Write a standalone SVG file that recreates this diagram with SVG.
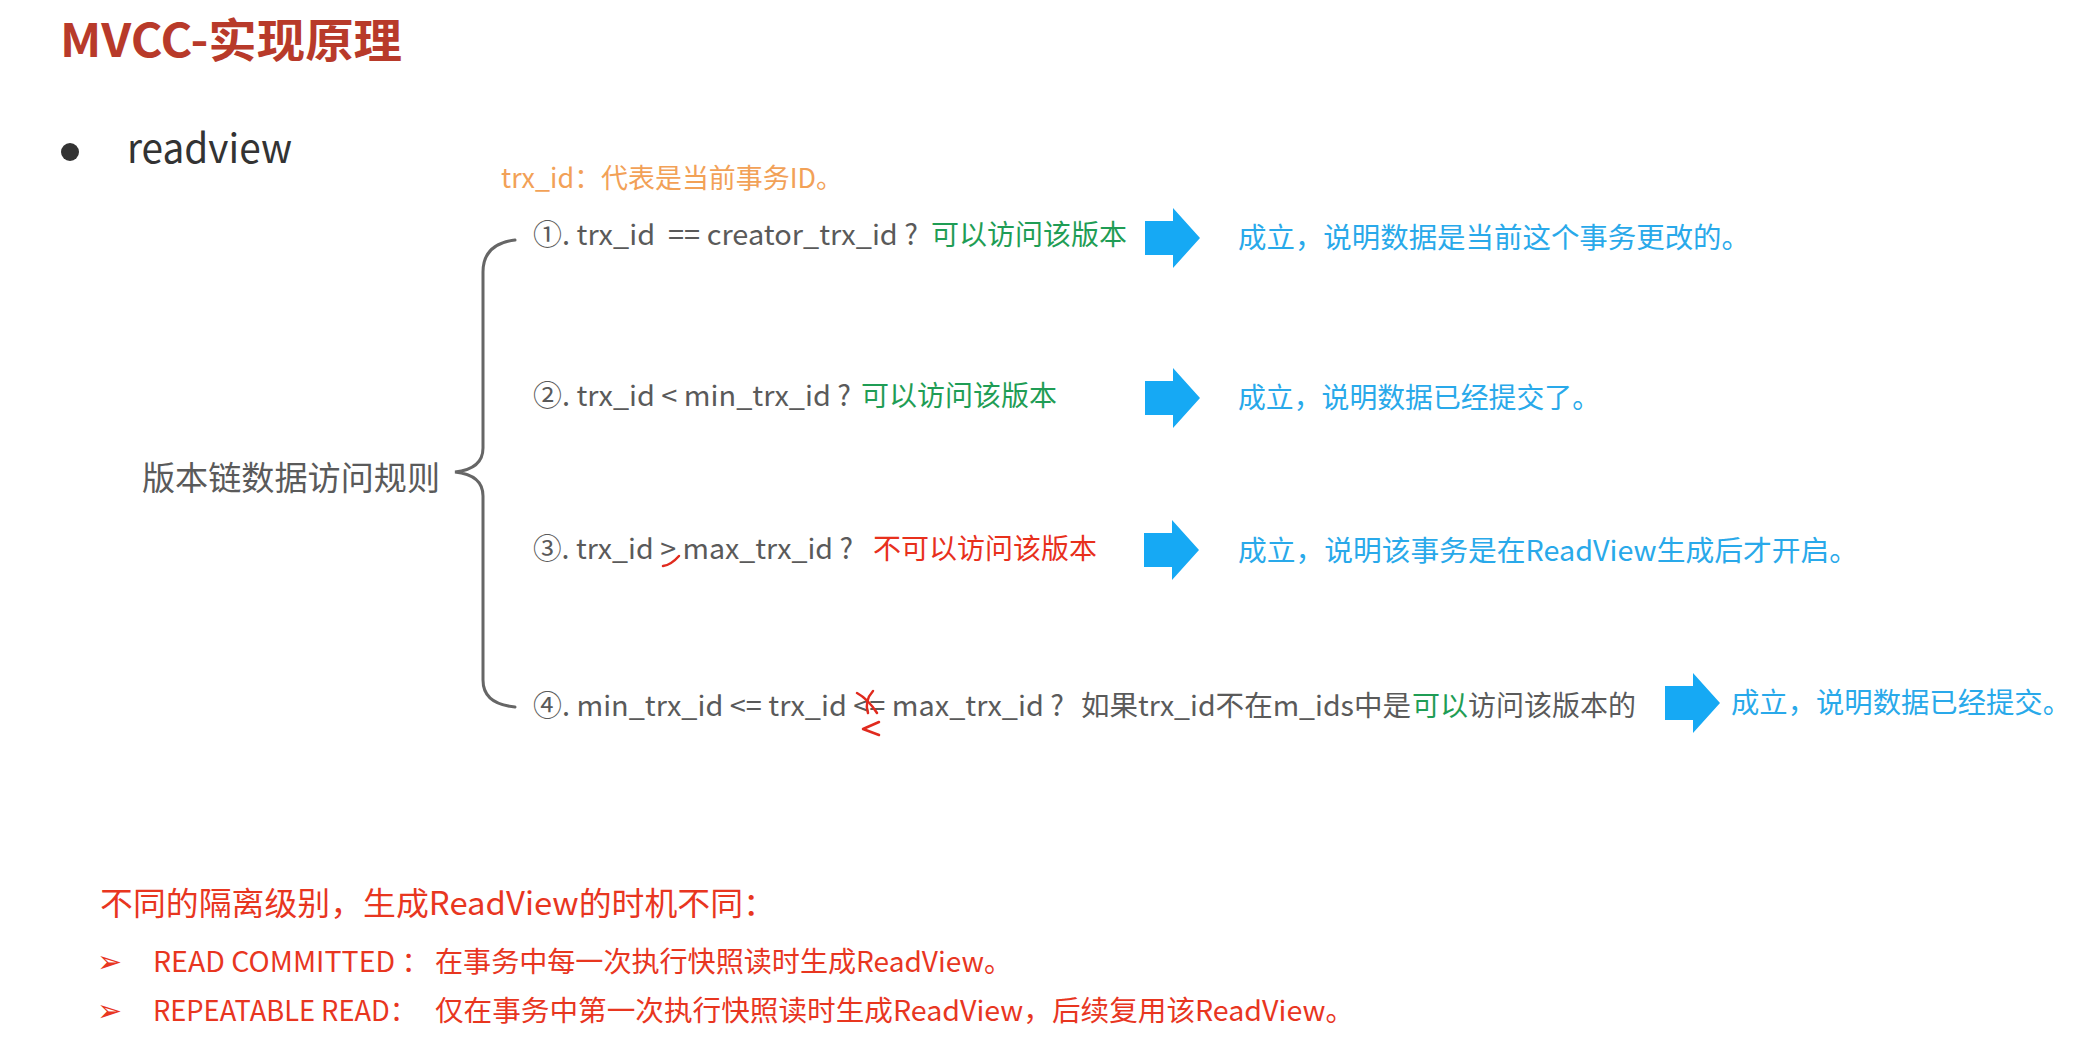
<svg xmlns="http://www.w3.org/2000/svg" width="2100" height="1050" viewBox="0 0 2100 1050">
<style>
text{font-family:"Noto Sans CJK SC","Noto Sans",sans-serif;}
.title{font-size:46px;font-weight:bold;fill:#B83A2A;}
.rv{font-size:40px;fill:#333333;}
.note{font-size:27px;fill:#F2A157;}
.cond{font-size:28px;fill:#5A5A5A;}
.ok{fill:#1F9D55;}
.no{fill:#E8301C;}
.res{font-size:28px;fill:#29A9EA;}
.lbl{font-size:33px;fill:#5A5A5A;}
.red{font-size:32px;fill:#E8361F;}
.redl{font-size:28px;fill:#E8361F;}
.mk{font-family:"DejaVu Sans",sans-serif;font-size:30px;font-weight:bold;fill:#E8361F;}
.brace{fill:none;stroke:#666666;stroke-width:3;stroke-linecap:round;}
.pen{fill:none;stroke:#E02A1E;stroke-width:2.5;stroke-linecap:round;stroke-linejoin:round;}
</style>
<defs>
<polygon id="blk" points="0,-17 28,-17 28,-30 55,0 28,30 28,17 0,17" fill="#16A9F4"/>
</defs>
<rect width="2100" height="1050" fill="#FFFFFF"/>

<g id="title"><text class="title" x="60" y="57" textLength="342" lengthAdjust="spacingAndGlyphs">MVCC-实现原理</text></g>

<g id="bullet-readview">
<circle cx="70" cy="152" r="9" fill="#333333"/>
<text class="rv" x="127" y="163" textLength="165" lengthAdjust="spacingAndGlyphs">readview</text>
</g>

<g id="trx-note"><text class="note" x="501" y="188" textLength="342" lengthAdjust="spacingAndGlyphs">trx_id：代表是当前事务ID。</text></g>

<g id="rule-label"><text class="lbl" x="142" y="490" textLength="298" lengthAdjust="spacingAndGlyphs">版本链数据访问规则</text></g>

<g id="connectors">
<path class="brace" d="M515,240 Q483,244 483,272 L483,448 Q483,469 455,472 Q483,475 483,496 L483,680 Q483,704 515,707"/>
<use href="#blk" x="1145" y="238"/>
<use href="#blk" x="1145" y="398"/>
<use href="#blk" x="1144" y="550"/>
<use href="#blk" x="1665" y="703"/>
</g>

<g id="cond1">
<text class="cond" x="533" y="245" textLength="385" lengthAdjust="spacingAndGlyphs" xml:space="preserve">①. trx_id  == creator_trx_id ?</text>
<text class="cond ok" x="931" y="245">可以访问该版本</text>
</g>
<g id="res1"><text class="res" x="1238" y="248" textLength="512" lengthAdjust="spacingAndGlyphs">成立，说明数据是当前这个事务更改的。</text></g>

<g id="cond2">
<text class="cond" x="533" y="406" textLength="318" lengthAdjust="spacingAndGlyphs">②. trx_id &lt; min_trx_id ?</text>
<text class="cond ok" x="861" y="406">可以访问该版本</text>
</g>
<g id="res2"><text class="res" x="1238" y="408" textLength="362" lengthAdjust="spacingAndGlyphs">成立，说明数据已经提交了。</text></g>

<g id="cond3">
<text class="cond" x="533" y="559" textLength="320" lengthAdjust="spacingAndGlyphs">③. trx_id &gt; max_trx_id ?</text>
<text class="cond no" x="873" y="559">不可以访问该版本</text>
<path class="pen" d="M663,566 Q671,565 679,556"/>
</g>
<g id="res3"><text class="res" x="1238" y="561" textLength="620" lengthAdjust="spacingAndGlyphs">成立，说明该事务是在ReadView生成后才开启。</text></g>

<g id="cond4">
<text class="cond" x="533" y="716" textLength="531" lengthAdjust="spacingAndGlyphs">④. min_trx_id &lt;= trx_id &lt;= max_trx_id ?</text>
<text class="cond" x="1081" y="716" textLength="330" lengthAdjust="spacingAndGlyphs">如果trx_id不在m_ids中是</text>
<text class="cond ok" x="1412" y="716">可以</text>
<text class="cond" x="1468" y="716">访问该版本的</text>
<path class="pen" d="M857,693 Q868,699 877,713"/>
<path class="pen" d="M873,691 Q864,701 868,713"/>
<path class="pen" d="M879,722 L863,729 L879,735"/>
</g>
<g id="res4"><text class="res" x="1731" y="713" textLength="340" lengthAdjust="spacingAndGlyphs">成立，说明数据已经提交。</text></g>

<g id="isolation-notes">
<text class="red" x="100" y="915" textLength="676" lengthAdjust="spacingAndGlyphs">不同的隔离级别，生成ReadView的时机不同：</text>
<text class="mk" x="97" y="972">➢</text>
<text class="redl" x="153" y="972" textLength="277" lengthAdjust="spacingAndGlyphs" xml:space="preserve">READ COMMITTED ：</text>
<text class="redl" x="435" y="972" textLength="577" lengthAdjust="spacingAndGlyphs">在事务中每一次执行快照读时生成ReadView。</text>
<text class="mk" x="97" y="1021">➢</text>
<text class="redl" x="153" y="1021" textLength="264" lengthAdjust="spacingAndGlyphs">REPEATABLE READ：</text>
<text class="redl" x="435" y="1021" textLength="919" lengthAdjust="spacingAndGlyphs">仅在事务中第一次执行快照读时生成ReadView，后续复用该ReadView。</text>
</g>
</svg>
